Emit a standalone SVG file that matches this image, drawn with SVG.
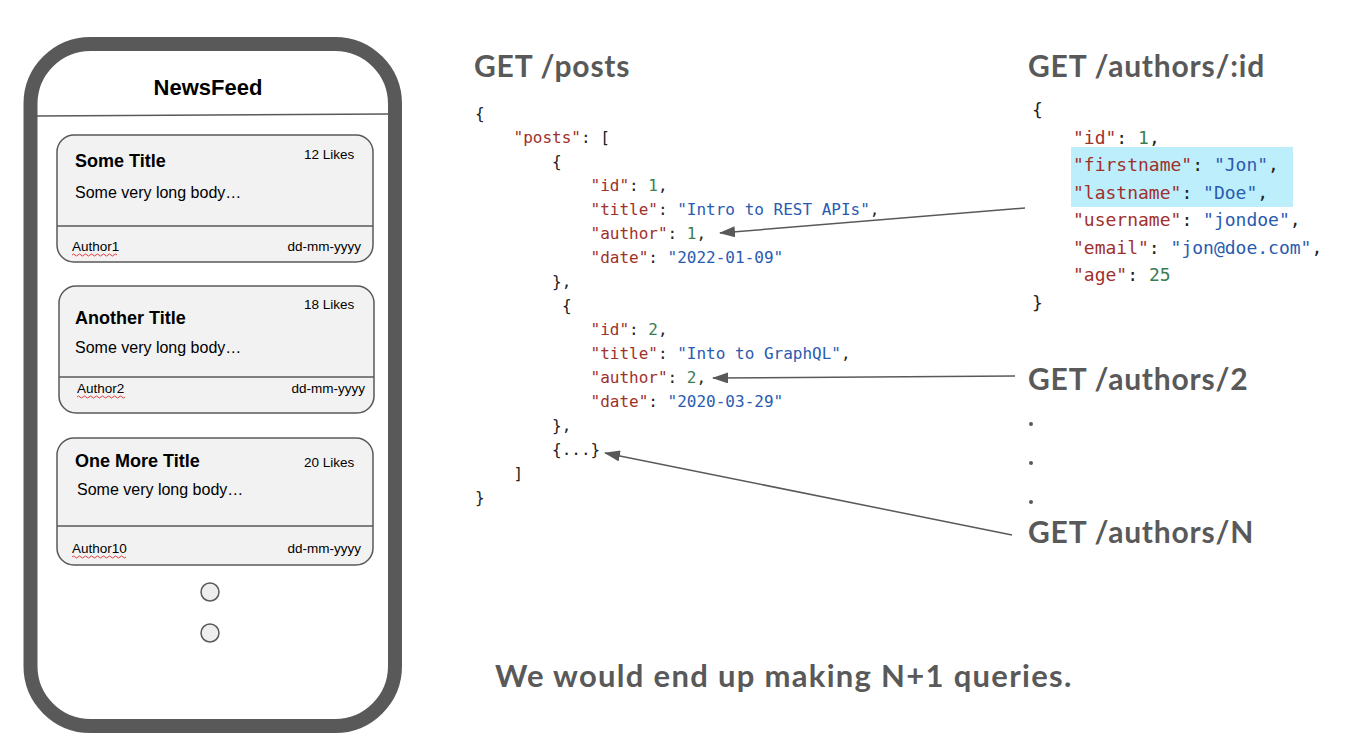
<svg xmlns="http://www.w3.org/2000/svg" width="1352" height="752" viewBox="0 0 1352 752">
<defs>
<style>
.head{font-family:Lato,"Noto Sans",sans-serif;font-weight:bold;font-size:30px;fill:#595959;letter-spacing:0.8px}
.note{font-family:Lato,"Noto Sans",sans-serif;font-weight:bold;font-size:31px;fill:#595959;letter-spacing:1.3px}
.code{font-family:"DejaVu Sans Mono",monospace;font-size:16px;fill:#222}
.code2{font-family:"DejaVu Sans Mono",monospace;font-size:18px;fill:#222}
.k{fill:#a0302c}
.s{fill:#2a5bb0}
.n{fill:#3a7d53}
.card{fill:#f2f2f2;stroke:#595959;stroke-width:1.5}
.div{stroke:#595959;stroke-width:1.5}
.ct{font-family:"Liberation Sans",Arial,sans-serif;font-weight:bold;font-size:18px;fill:#000}
.cb{font-family:"Liberation Sans",Arial,sans-serif;font-size:16px;fill:#000}
.cs{font-family:"Liberation Sans",Arial,sans-serif;font-size:13.5px;fill:#000}
.wavy{fill:none;stroke:#e04040;stroke-width:1}
.conn{stroke:#595959;stroke-width:1.5;fill:none}
</style>
<marker id="ahb" markerWidth="16" markerHeight="11" refX="15" refY="5.5" orient="auto" markerUnits="userSpaceOnUse" viewBox="0 0 16 11">
<path d="M0,0 L16,5.5 L0,11 Z" fill="#595959"/>
</marker>
</defs>
<rect width="1352" height="752" fill="#fff"/>

<g id="phone">
<rect x="30.5" y="44" width="364.5" height="682" rx="60" ry="60" fill="#fff" stroke="#595959" stroke-width="14"/>
<line x1="37" y1="116" x2="388" y2="114" stroke="#595959" stroke-width="1.5"/>
<text x="208" y="95" text-anchor="middle" font-family="'Liberation Sans',Arial,sans-serif" font-weight="bold" font-size="22" fill="#000">NewsFeed</text>
<circle cx="210" cy="592" r="9" fill="#eeeeee" stroke="#595959" stroke-width="1.5"/>
<circle cx="210" cy="633" r="9" fill="#eeeeee" stroke="#595959" stroke-width="1.5"/>
</g>

<g id="card1">
<rect class="card" x="57" y="135" width="316" height="127" rx="17"/>
<line class="div" x1="57" y1="226" x2="373" y2="226"/>
<text class="ct" x="75" y="167">Some Title</text>
<text class="cs" x="304" y="159">12 Likes</text>
<text class="cb" x="75" y="198">Some very long body…</text>
<text class="cs" x="72" y="251">Author1</text>
<path class="wavy" d="M72,255 q1.5,-2 3,0 t3,0 t3,0 t3,0 t3,0 t3,0 t3,0 t3,0 t3,0 t3,0 t3,0 t3,0 t3,0 t3,0 t3,0"/>
<text class="cs" x="361" y="251" text-anchor="end">dd-mm-yyyy</text>
</g>

<g id="card2">
<rect class="card" x="59" y="286" width="315" height="127" rx="17"/>
<line class="div" x1="59" y1="377" x2="374" y2="377"/>
<text class="ct" x="75" y="324">Another Title</text>
<text class="cs" x="304" y="309">18 Likes</text>
<text class="cb" x="75" y="353">Some very long body…</text>
<text class="cs" x="77" y="393">Author2</text>
<path class="wavy" d="M77,397 q1.5,-2 3,0 t3,0 t3,0 t3,0 t3,0 t3,0 t3,0 t3,0 t3,0 t3,0 t3,0 t3,0 t3,0 t3,0 t3,0 t3,0"/>
<text class="cs" x="365" y="393" text-anchor="end">dd-mm-yyyy</text>
</g>

<g id="card3">
<rect class="card" x="57" y="438" width="316" height="127" rx="17"/>
<line class="div" x1="57" y1="526" x2="373" y2="526"/>
<text class="ct" x="75" y="467">One More Title</text>
<text class="cs" x="304" y="467">20 Likes</text>
<text class="cb" x="77" y="495">Some very long body…</text>
<text class="cs" x="72" y="553">Author10</text>
<path class="wavy" d="M72,557 q1.5,-2 3,0 t3,0 t3,0 t3,0 t3,0 t3,0 t3,0 t3,0 t3,0 t3,0 t3,0 t3,0 t3,0 t3,0 t3,0 t3,0 t3,0 t3,0"/>
<text class="cs" x="361" y="553" text-anchor="end">dd-mm-yyyy</text>
</g>

<g id="posts">
<text class="head" x="474" y="77">GET /posts</text>
<text class="code" x="475" y="119">{</text>
<text class="code" x="513.5" y="143"><tspan class="k">"posts"</tspan>: [</text>
<text class="code" x="552" y="167">{</text>
<text class="code" x="590.5" y="191"><tspan class="k">"id"</tspan>: <tspan class="n">1</tspan>,</text>
<text class="code" x="590.5" y="215"><tspan class="k">"title"</tspan>: <tspan class="s">"Intro to REST APIs"</tspan>,</text>
<text class="code" x="590.5" y="239"><tspan class="k">"author"</tspan>: <tspan class="n">1</tspan>,</text>
<text class="code" x="590.5" y="263"><tspan class="k">"date"</tspan>: <tspan class="s">"2022-01-09"</tspan></text>
<text class="code" x="552" y="287">},</text>
<text class="code" x="562" y="311">{</text>
<text class="code" x="590.5" y="335"><tspan class="k">"id"</tspan>: <tspan class="n">2</tspan>,</text>
<text class="code" x="590.5" y="359"><tspan class="k">"title"</tspan>: <tspan class="s">"Into to GraphQL"</tspan>,</text>
<text class="code" x="590.5" y="383"><tspan class="k">"author"</tspan>: <tspan class="n">2</tspan>,</text>
<text class="code" x="590.5" y="407"><tspan class="k">"date"</tspan>: <tspan class="s">"2020-03-29"</tspan></text>
<text class="code" x="552" y="431">},</text>
<text class="code" x="552" y="455">{...}</text>
<text class="code" x="513.5" y="479">]</text>
<text class="code" x="475" y="503">}</text>
</g>

<g id="author">
<text class="head" x="1028" y="77">GET /authors/:id</text>
<rect x="1071" y="147" width="222" height="60" fill="#bdeefc"/>
<text class="code2" x="1032" y="116">{</text>
<text class="code2" x="1073" y="144"><tspan class="k">"id"</tspan>: <tspan class="n">1</tspan>,</text>
<text class="code2" x="1073" y="171"><tspan class="k">"firstname"</tspan>: <tspan class="s">"Jon"</tspan>,</text>
<text class="code2" x="1073" y="199"><tspan class="k">"lastname"</tspan>: <tspan class="s">"Doe"</tspan>,</text>
<text class="code2" x="1073" y="226"><tspan class="k">"username"</tspan>: <tspan class="s">"jondoe"</tspan>,</text>
<text class="code2" x="1073" y="254"><tspan class="k">"email"</tspan>: <tspan class="s">"jon@doe.com"</tspan>,</text>
<text class="code2" x="1073" y="281"><tspan class="k">"age"</tspan>: <tspan class="n">25</tspan></text>
<text class="code2" x="1032" y="309">}</text>
</g>

<g id="author2">
<text class="head" x="1028" y="390">GET /authors/2</text>
</g>
<g id="dots">
<circle cx="1031" cy="424" r="2" fill="#595959"/>
<circle cx="1031" cy="463" r="2" fill="#595959"/>
<circle cx="1031" cy="502" r="2" fill="#595959"/>
</g>
<g id="authorN">
<text class="head" x="1028" y="543">GET /authors/N</text>
</g>

<g id="note">
<text class="note" x="495" y="687">We would end up making N+1 queries.</text>
</g>

<g id="connectors">
<line class="conn" x1="1025" y1="208" x2="720" y2="233" marker-end="url(#ahb)"/>
<line class="conn" x1="1015" y1="376" x2="713" y2="378" marker-end="url(#ahb)"/>
<line class="conn" x1="1012" y1="535" x2="605" y2="453" marker-end="url(#ahb)"/>
</g>
</svg>
